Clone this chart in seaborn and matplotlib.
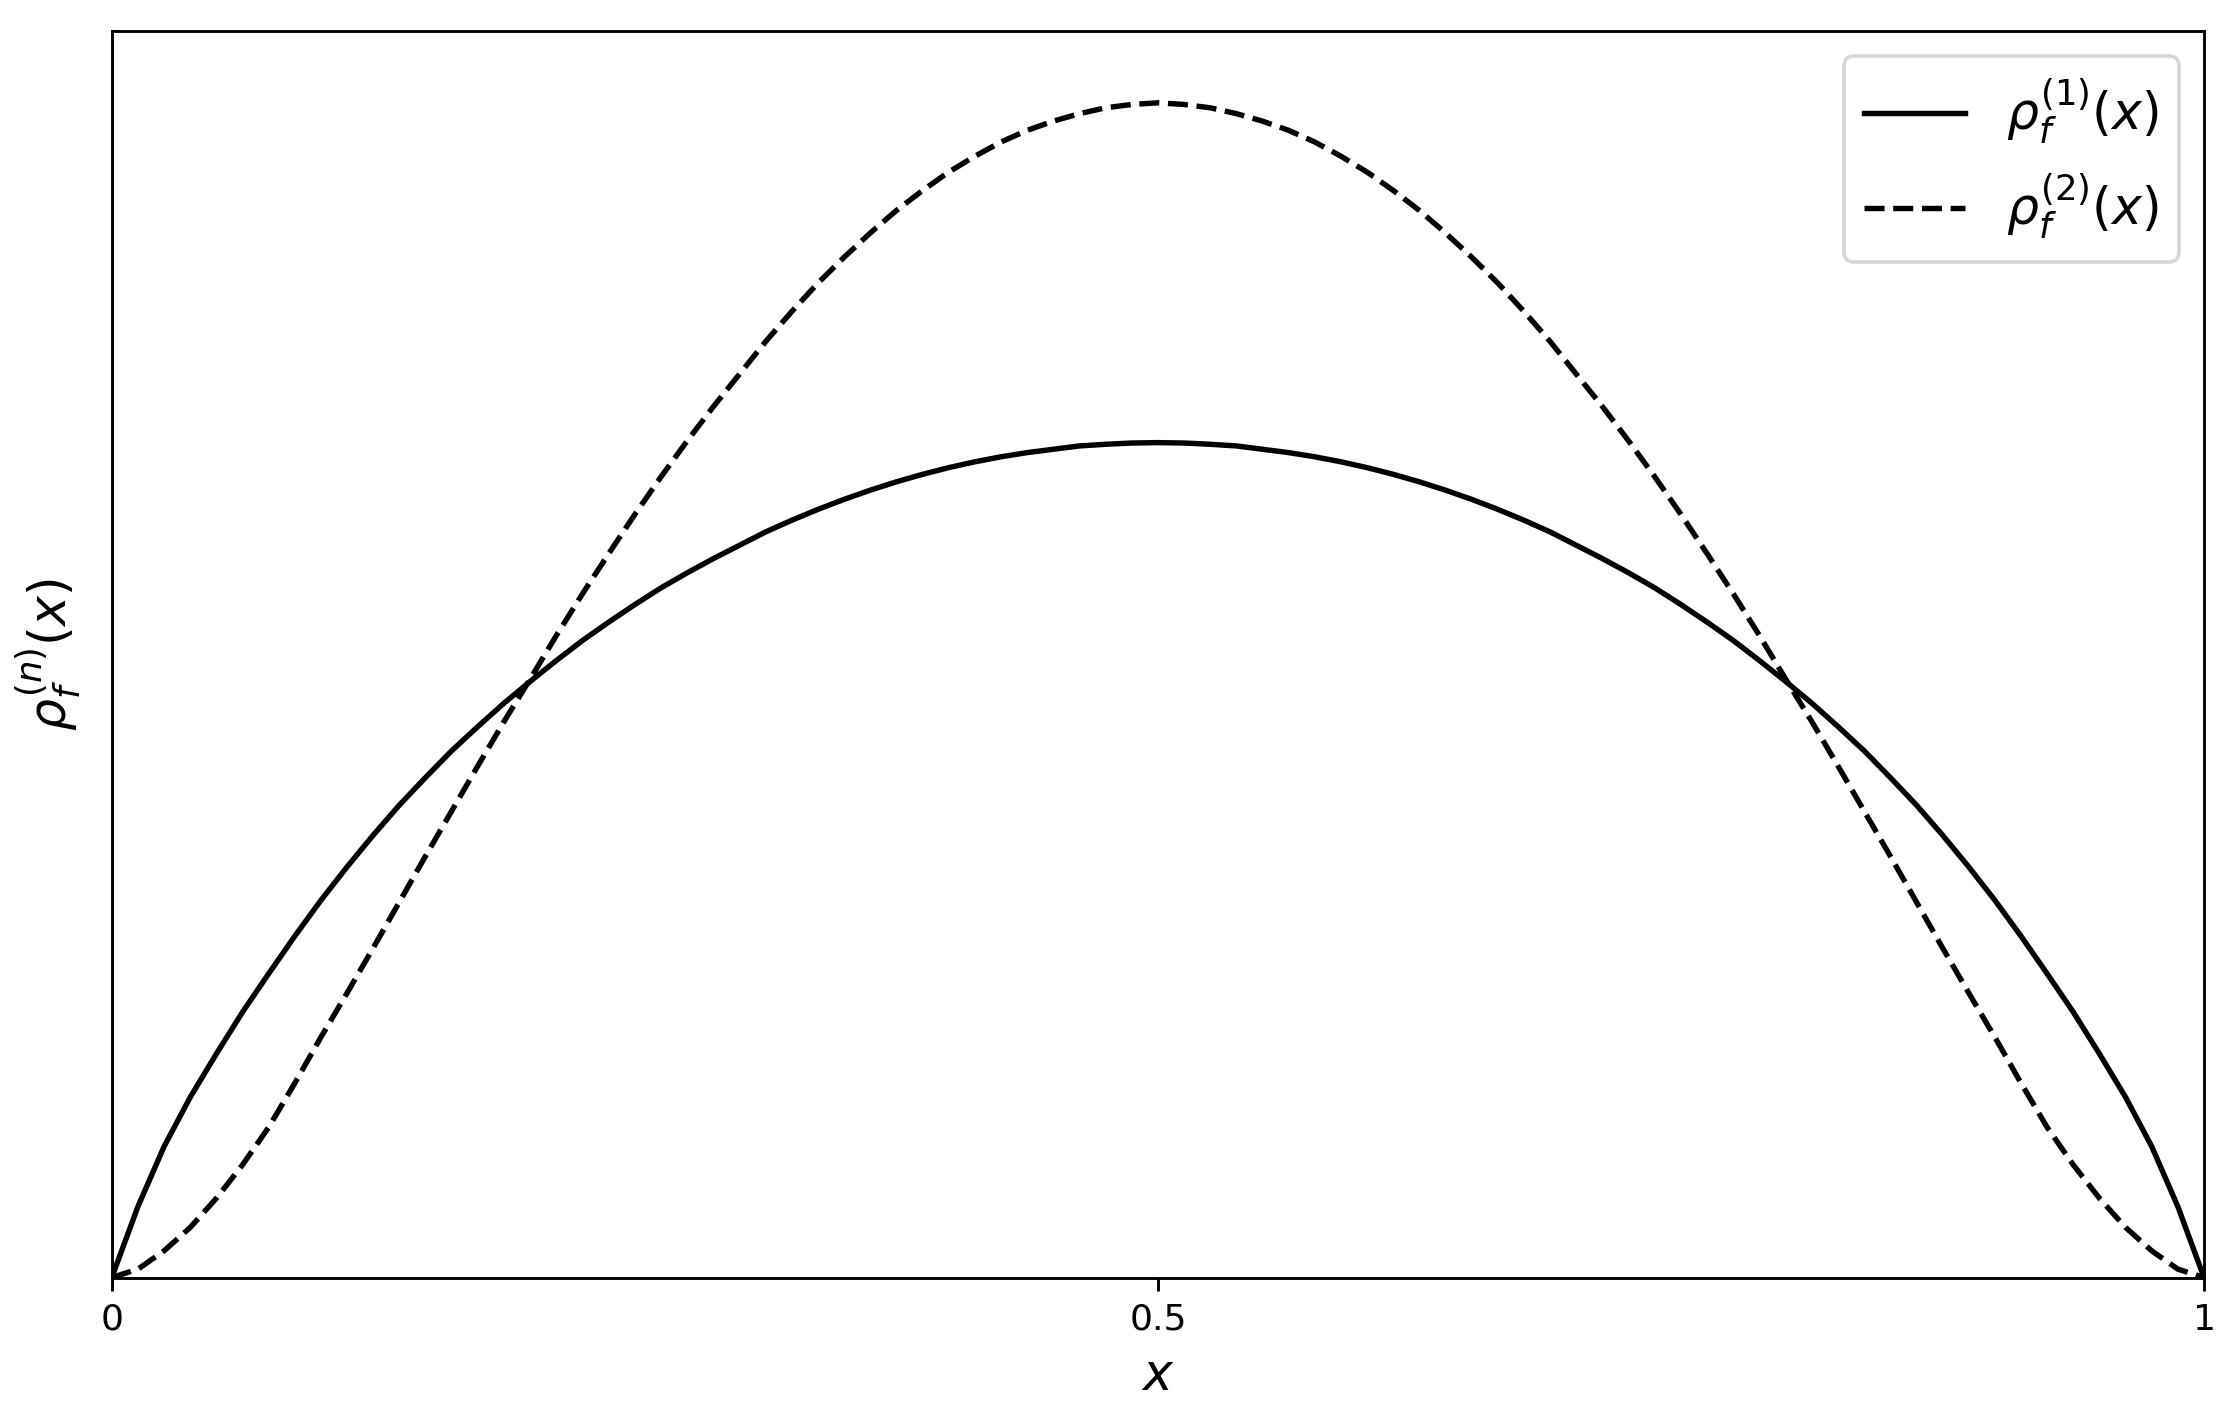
import numpy as np
import pandas as pd
import matplotlib
matplotlib.use("Agg")
import matplotlib.pyplot as plt
import seaborn as sns

# values (curves are symmetric about x = 0.5)
x_vals = [0, 0.0125, 0.025, 0.0375, 0.05, 0.0625, 0.075, 0.0875, 0.1, 0.1125,
          0.125, 0.1375, 0.15, 0.1625, 0.175, 0.1875, 0.2, 0.2125, 0.225, 0.2375,
          0.25, 0.2625, 0.275, 0.2875, 0.3, 0.3125, 0.325, 0.3375, 0.35, 0.3625,
          0.375, 0.3875, 0.4, 0.4125, 0.425, 0.4375, 0.45, 0.4625, 0.475, 0.4875,
          0.5,
          0.5125, 0.525, 0.5375, 0.55, 0.5625, 0.575, 0.5875, 0.6, 0.6125, 0.625,
          0.6375, 0.65, 0.6625, 0.675, 0.6875, 0.7, 0.7125, 0.725, 0.7375, 0.75,
          0.7625, 0.775, 0.7875, 0.8, 0.8125, 0.825, 0.8375, 0.85, 0.8625, 0.875,
          0.8875, 0.9, 0.9125, 0.925, 0.9375, 0.95, 0.9625, 0.975, 0.9875, 1]
rho1 = [0, 0.085, 0.157, 0.216, 0.268, 0.318, 0.364, 0.409, 0.452, 0.492,
        0.530, 0.566, 0.599, 0.631, 0.660, 0.688, 0.714, 0.739, 0.763, 0.785,
        0.806, 0.826, 0.844, 0.861, 0.877, 0.893, 0.907, 0.920, 0.932, 0.943,
        0.953, 0.962, 0.970, 0.977, 0.983, 0.988, 0.992, 0.996, 0.998, 0.9995,
        1.000,
        0.9995, 0.998, 0.996, 0.992, 0.988, 0.983, 0.977, 0.970, 0.962, 0.953,
        0.943, 0.932, 0.920, 0.907, 0.893, 0.877, 0.861, 0.844, 0.826, 0.806,
        0.785, 0.763, 0.739, 0.714, 0.688, 0.660, 0.631, 0.599, 0.566, 0.530,
        0.492, 0.452, 0.409, 0.364, 0.318, 0.268, 0.216, 0.157, 0.085, 0]
rho2 = [0, 0.010, 0.032, 0.060, 0.095, 0.135, 0.180, 0.233, 0.288, 0.341,
        0.395, 0.450, 0.505, 0.559, 0.613, 0.666, 0.717, 0.769, 0.819, 0.867,
        0.914, 0.959, 1.002, 1.043, 1.082, 1.121, 1.157, 1.191, 1.222, 1.251,
        1.278, 1.302, 1.324, 1.343, 1.360, 1.374, 1.385, 1.394, 1.401, 1.405,
        1.407,
        1.405, 1.401, 1.394, 1.385, 1.374, 1.360, 1.343, 1.324, 1.302, 1.278,
        1.251, 1.222, 1.191, 1.157, 1.121, 1.082, 1.043, 1.002, 0.959, 0.914,
        0.867, 0.819, 0.769, 0.717, 0.666, 0.613, 0.559, 0.505, 0.450, 0.395,
        0.341, 0.288, 0.233, 0.180, 0.135, 0.095, 0.060, 0.032, 0.010, 0]
labels = [r"$\rho_f^{(1)}(x)$", r"$\rho_f^{(2)}(x)$"]
xticks = [0, 0.5, 1]
xticklabels = ["0", "0.5", "1"]

df = pd.DataFrame({"x": x_vals, "rho1": rho1, "rho2": rho2})

fig, ax = plt.subplots(figsize=(2237 / 260, 1414 / 260), dpi=260)
fig.subplots_adjust(left=0.04998, right=0.98525, top=0.97808, bottom=0.09653)

sns.lineplot(data=df, x="x", y="rho1", color="k", linewidth=1.5,
             label=labels[0], ax=ax)
sns.lineplot(data=df, x="x", y="rho2", color="k", linewidth=1.5,
             linestyle="--", label=labels[1], ax=ax)

ax.set_xlim(0, 1)
ax.set_ylim(0, 1.493)
ax.set_xticks(xticks)
ax.set_xticklabels(xticklabels, fontsize=10)
ax.set_yticks([])
ax.set_xlabel(r"$x$", fontsize=14)
ax.set_ylabel(r"$\rho_f^{(n)}(x)$", fontsize=14, labelpad=8)
ax.legend(loc="upper right", fontsize=14)

fig.savefig("out.png", dpi=260)
